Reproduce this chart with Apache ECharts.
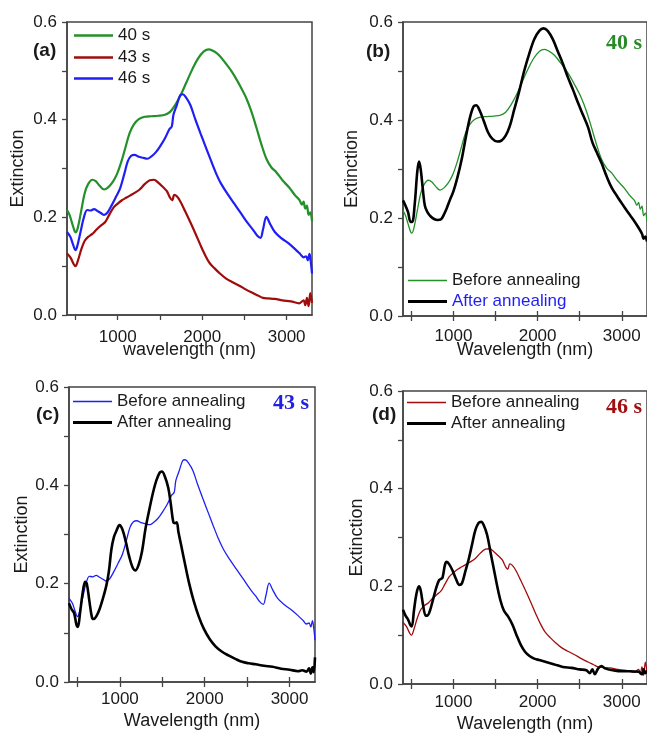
<!DOCTYPE html>
<html>
<head>
<meta charset="utf-8">
<script src="https://cdn.jsdelivr.net/npm/echarts@6/dist/echarts.min.js"></script>
<style>
html, body { margin: 0; padding: 0; background: #fff; }
#chart { width: 647px; height: 734px; }
</style>
</head>
<body>
<div id="chart"></div>
<script>
// tick values
var xTicks = [500, 1000, 1500, 2000, 2500, 3000];
var xLabels = [1000, 2000, 3000];
var yTicks = [0, 0.1, 0.2, 0.3, 0.4, 0.5, 0.6];
var yLabels = [0, 0.2, 0.4, 0.6];

// 40 s (green) - panel a and "before" in b
var wlGreen = [400, 430, 460, 490, 505, 530, 570, 610, 650, 700, 740, 790, 840, 890, 940, 990, 1040, 1090, 1140, 1190, 1250, 1320, 1400, 1480, 1560, 1620, 1680, 1750, 1810, 1880, 1950, 2020, 2080, 2140, 2200, 2280, 2360, 2440, 2520, 2580, 2640, 2700, 2760, 2820, 2880, 2950, 3030, 3100, 3150, 3180, 3200, 3220, 3240, 3260, 3280, 3300];
var extGreen = [0.215, 0.205, 0.188, 0.172, 0.169, 0.180, 0.215, 0.250, 0.268, 0.277, 0.274, 0.264, 0.257, 0.262, 0.272, 0.288, 0.312, 0.342, 0.372, 0.390, 0.401, 0.406, 0.407, 0.408, 0.410, 0.416, 0.430, 0.452, 0.475, 0.502, 0.525, 0.540, 0.544, 0.540, 0.532, 0.515, 0.496, 0.472, 0.445, 0.418, 0.385, 0.350, 0.320, 0.302, 0.292, 0.276, 0.261, 0.245, 0.236, 0.226, 0.232, 0.218, 0.224, 0.205, 0.210, 0.192];

// 43 s (dark red) - panel a and "before" in d
var wlRed = [400, 440, 480, 500, 530, 570, 610, 650, 700, 750, 800, 850, 900, 950, 1000, 1050, 1100, 1150, 1200, 1260, 1320, 1380, 1430, 1480, 1530, 1580, 1620, 1645, 1670, 1700, 1740, 1800, 1860, 1920, 1980, 2040, 2090, 2150, 2210, 2280, 2360, 2440, 2520, 2600, 2660, 2720, 2780, 2860, 2950, 3050, 3150, 3200, 3220, 3240, 3260, 3280, 3300];
var extRed = [0.126, 0.118, 0.104, 0.100, 0.112, 0.135, 0.152, 0.160, 0.166, 0.175, 0.183, 0.190, 0.205, 0.220, 0.228, 0.235, 0.240, 0.245, 0.250, 0.257, 0.268, 0.276, 0.277, 0.271, 0.263, 0.254, 0.240, 0.235, 0.246, 0.243, 0.233, 0.212, 0.190, 0.167, 0.143, 0.121, 0.106, 0.095, 0.085, 0.075, 0.067, 0.060, 0.052, 0.045, 0.040, 0.035, 0.034, 0.033, 0.030, 0.028, 0.024, 0.030, 0.020, 0.035, 0.018, 0.045, 0.025];

// 46 s (blue) - panel a and "before" in c
var wlBlue = [400, 440, 470, 500, 520, 560, 600, 640, 680, 720, 760, 800, 840, 880, 930, 980, 1030, 1080, 1120, 1160, 1200, 1250, 1300, 1350, 1400, 1450, 1500, 1560, 1610, 1640, 1660, 1700, 1740, 1770, 1810, 1860, 1920, 1980, 2040, 2100, 2160, 2220, 2300, 2380, 2460, 2540, 2600, 2650, 2690, 2720, 2760, 2800, 2860, 2940, 3020, 3100, 3160, 3200, 3230, 3250, 3270, 3285, 3300];
var extBlue = [0.170, 0.160, 0.145, 0.133, 0.140, 0.170, 0.200, 0.215, 0.214, 0.217, 0.213, 0.209, 0.205, 0.210, 0.225, 0.242, 0.260, 0.290, 0.315, 0.326, 0.328, 0.324, 0.322, 0.320, 0.325, 0.333, 0.345, 0.362, 0.380, 0.386, 0.410, 0.430, 0.450, 0.452, 0.445, 0.430, 0.400, 0.372, 0.345, 0.318, 0.292, 0.270, 0.248, 0.228, 0.208, 0.188, 0.175, 0.163, 0.158, 0.175, 0.201, 0.188, 0.170, 0.157, 0.147, 0.135, 0.125, 0.118, 0.120, 0.112, 0.125, 0.110, 0.085];

// after annealing, panel b
var wlAnnB = [400, 430, 460, 490, 510, 540, 570, 590, 610, 635, 660, 690, 730, 770, 810, 850, 880, 920, 960, 1000, 1050, 1100, 1150, 1200, 1240, 1270, 1310, 1360, 1410, 1460, 1520, 1570, 1620, 1670, 1720, 1780, 1840, 1900, 1960, 2020, 2070, 2120, 2180, 2240, 2300, 2360, 2420, 2480, 2540, 2600, 2650, 2700, 2760, 2820, 2880, 2950, 3020, 3080, 3140, 3200, 3240, 3260, 3280, 3300];
var extAnnB = [0.236, 0.225, 0.212, 0.192, 0.192, 0.230, 0.295, 0.315, 0.300, 0.260, 0.225, 0.212, 0.203, 0.198, 0.196, 0.197, 0.205, 0.220, 0.238, 0.255, 0.285, 0.322, 0.368, 0.408, 0.428, 0.430, 0.420, 0.398, 0.375, 0.362, 0.356, 0.358, 0.368, 0.388, 0.420, 0.458, 0.500, 0.535, 0.565, 0.582, 0.587, 0.582, 0.565, 0.540, 0.515, 0.487, 0.462, 0.435, 0.410, 0.385, 0.355, 0.335, 0.312, 0.285, 0.262, 0.243, 0.225, 0.210, 0.196, 0.180, 0.168, 0.158, 0.162, 0.152];

// after annealing, panel c
var wlAnnC = [400, 430, 460, 490, 505, 530, 560, 590, 610, 640, 670, 690, 720, 760, 800, 840, 870, 900, 930, 960, 995, 1030, 1070, 1110, 1150, 1185, 1220, 1260, 1300, 1340, 1390, 1430, 1470, 1495, 1530, 1570, 1600, 1630, 1650, 1670, 1690, 1720, 1770, 1820, 1870, 1930, 1990, 2060, 2130, 2200, 2280, 2360, 2440, 2520, 2600, 2700, 2800, 2900, 3000, 3100, 3150, 3200, 3230, 3250, 3270, 3285, 3300];
var extAnnC = [0.160, 0.148, 0.140, 0.115, 0.112, 0.140, 0.180, 0.204, 0.200, 0.165, 0.132, 0.128, 0.133, 0.148, 0.170, 0.196, 0.225, 0.270, 0.295, 0.308, 0.319, 0.310, 0.285, 0.255, 0.233, 0.227, 0.238, 0.265, 0.310, 0.345, 0.385, 0.410, 0.426, 0.428, 0.418, 0.395, 0.362, 0.325, 0.323, 0.325, 0.305, 0.280, 0.238, 0.198, 0.165, 0.133, 0.108, 0.087, 0.072, 0.062, 0.054, 0.047, 0.041, 0.038, 0.036, 0.033, 0.031, 0.027, 0.025, 0.022, 0.024, 0.021, 0.028, 0.017, 0.030, 0.020, 0.050];

// after annealing, panel d
var wlAnnD = [400, 430, 460, 490, 505, 530, 560, 590, 610, 640, 670, 690, 720, 760, 800, 830, 850, 870, 900, 920, 950, 990, 1030, 1070, 1100, 1140, 1180, 1220, 1260, 1300, 1330, 1360, 1400, 1440, 1480, 1520, 1560, 1600, 1650, 1700, 1750, 1800, 1850, 1900, 1960, 2020, 2100, 2200, 2300, 2400, 2500, 2580, 2620, 2650, 2680, 2720, 2760, 2800, 2900, 3000, 3100, 3200, 3240, 3260, 3280, 3300];
var extAnnD = [0.152, 0.140, 0.132, 0.120, 0.118, 0.150, 0.185, 0.200, 0.192, 0.160, 0.140, 0.140, 0.150, 0.175, 0.200, 0.213, 0.215, 0.218, 0.245, 0.250, 0.245, 0.232, 0.215, 0.203, 0.206, 0.230, 0.255, 0.285, 0.315, 0.330, 0.332, 0.325, 0.305, 0.270, 0.235, 0.200, 0.170, 0.150, 0.138, 0.122, 0.100, 0.080, 0.066, 0.058, 0.052, 0.049, 0.045, 0.040, 0.035, 0.033, 0.030, 0.028, 0.022, 0.030, 0.020, 0.032, 0.037, 0.032, 0.028, 0.026, 0.026, 0.025, 0.020, 0.030, 0.022, 0.027];

var FONT = "'Liberation Sans', Arial, sans-serif";
var SERIF = "'Liberation Serif', 'Times New Roman', serif";
var GREEN = "#24902a";
var RED = "#a00c0c";
var BLUE = "#1f1ff5";
var FRAME = "#444";

function pairs(xs, ys) {
  return xs.map(function (x, i) { return [x, ys[i]]; });
}

// panel layout: grid box, gaps
var panels = [
  { left: 67, top: 22, width: 245, height: 293, xName: "wavelength (nm)", xGap: 26, yGap: 40, lblMargin: 14, topTicks: false },
  { left: 403, top: 22, width: 247, height: 294, xName: "Wavelength (nm)", xGap: 25, yGap: 42, lblMargin: 12, topTicks: true },
  { left: 69, top: 387, width: 246, height: 295, xName: "Wavelength (nm)", xGap: 30, yGap: 38, lblMargin: 9, topTicks: true },
  { left: 403, top: 391, width: 247, height: 293, xName: "Wavelength (nm)", xGap: 31, yGap: 37, lblMargin: 10, topTicks: true }
];

var grids = [], xAxes = [], yAxes = [];
panels.forEach(function (p, i) {
  grids.push({
    left: p.left, top: p.top, width: p.width, height: p.height,
    show: true, borderColor: FRAME, borderWidth: 1.5, backgroundColor: "transparent"
  });
  xAxes.push({
    type: "value", gridIndex: i, min: 400, max: 3300, position: "bottom",
    name: p.xName, nameLocation: "middle", nameGap: p.xGap, nameMoveOverlap: false,
    nameTextStyle: { fontSize: 18, fontFamily: FONT, color: "#1a1a1a" },
    axisLine: { show: true, onZero: false, lineStyle: { color: FRAME, width: 1.5 } },
    axisTick: { show: true, length: 5, customValues: xTicks, lineStyle: { color: FRAME, width: 1.3 } },
    axisLabel: {
      customValues: xLabels, margin: p.lblMargin, fontSize: 17, fontFamily: FONT, color: "#1a1a1a",
      formatter: function (v) { return String(v); }
    },
    splitLine: { show: false }
  });
  xAxes.push({
    type: "value", gridIndex: i, min: 400, max: 3300, position: "top",
    axisLine: { show: false },
    axisTick: { show: p.topTicks, length: 5, customValues: xTicks, lineStyle: { color: FRAME, width: 1.3 } },
    axisLabel: { show: false },
    splitLine: { show: false }
  });
  yAxes.push({
    type: "value", gridIndex: i, min: 0, max: 0.6,
    name: "Extinction", nameLocation: "middle", nameGap: p.yGap, nameRotate: 90, nameMoveOverlap: false,
    nameTextStyle: { fontSize: 18, fontFamily: FONT, color: "#1a1a1a" },
    axisLine: { show: true, onZero: false, lineStyle: { color: FRAME, width: 1.5 } },
    axisTick: { show: true, length: 5, customValues: yTicks, lineStyle: { color: FRAME, width: 1.3 } },
    axisLabel: {
      customValues: yLabels, margin: 10, fontSize: 17, fontFamily: FONT, color: "#1a1a1a",
      formatter: function (v) { return Number(v).toFixed(1); }
    },
    splitLine: { show: false }
  });
});

function line(name, panel, xs, ys, color, width) {
  return {
    name: name, type: "line", xAxisIndex: panel * 2, yAxisIndex: panel,
    data: pairs(xs, ys), symbol: "none", smooth: 0.35, color: color,
    lineStyle: { color: color, width: width }, z: width > 2 ? 3 : 2
  };
}

var series = [
  line("a40", 0, wlGreen, extGreen, GREEN, 2.2),
  line("a43", 0, wlRed, extRed, RED, 2.2),
  line("a46", 0, wlBlue, extBlue, BLUE, 2.2),
  line("bBefore", 1, wlGreen, extGreen, GREEN, 1.3),
  line("bAfter", 1, wlAnnB, extAnnB, "#000", 2.6),
  line("cBefore", 2, wlBlue, extBlue, BLUE, 1.3),
  line("cAfter", 2, wlAnnC, extAnnC, "#000", 2.6),
  line("dBefore", 3, wlRed, extRed, RED, 1.3),
  line("dAfter", 3, wlAnnD, extAnnD, "#000", 2.6)
];

// one legend per entry so each keeps its own stroke thickness
function leg(name, text, left, cy, h, textColor) {
  return {
    selectedMode: false, icon: "rect", itemWidth: 39, itemHeight: h,
    left: left, top: cy - 9, padding: 0,
    data: [{ name: name, textStyle: { color: textColor } }],
    formatter: function () { return text; },
    textStyle: { fontSize: 17, fontFamily: FONT, color: "#1a1a1a" }
  };
}

var legends = [
  leg("a40", "40 s", 74, 36, 2.6, "#1a1a1a"),
  leg("a43", "43 s", 74, 58, 2.6, "#1a1a1a"),
  leg("a46", "46 s", 74, 79, 2.6, "#1a1a1a"),
  leg("bBefore", "Before annealing", 408, 281, 1.4, "#1a1a1a"),
  leg("bAfter", "After annealing", 408, 302, 2.8, "#1f1ff5"),
  leg("cBefore", "Before annealing", 73, 402, 1.4, "#1a1a1a"),
  leg("cAfter", "After annealing", 73, 423, 2.8, "#1a1a1a"),
  leg("dBefore", "Before annealing", 407, 403, 1.4, "#1a1a1a"),
  leg("dAfter", "After annealing", 407, 424, 2.8, "#1a1a1a")
];

function tag(text, left, top, size, family, color) {
  return {
    text: text, left: left, top: top, padding: 0,
    textStyle: { fontSize: size, fontWeight: "bold", fontFamily: family, color: color }
  };
}

var titles = [
  tag("(a)", 33, 41, 19, FONT, "#1a1a1a"),
  tag("(b)", 366, 42, 19, FONT, "#1a1a1a"),
  tag("(c)", 36, 405, 19, FONT, "#1a1a1a"),
  tag("(d)", 372, 405, 19, FONT, "#1a1a1a"),
  tag("40 s", 606, 32, 22, SERIF, "#2a8a2a"),
  tag("43 s", 273, 392, 22, SERIF, "#2020e0"),
  tag("46 s", 606, 396, 22, SERIF, "#a01010")
];

var myChart = echarts.init(document.getElementById("chart"));
myChart.setOption({
  animation: false,
  backgroundColor: "#fff",
  title: titles,
  legend: legends,
  grid: grids,
  xAxis: xAxes,
  yAxis: yAxes,
  series: series
});
</script>
</body>
</html>
